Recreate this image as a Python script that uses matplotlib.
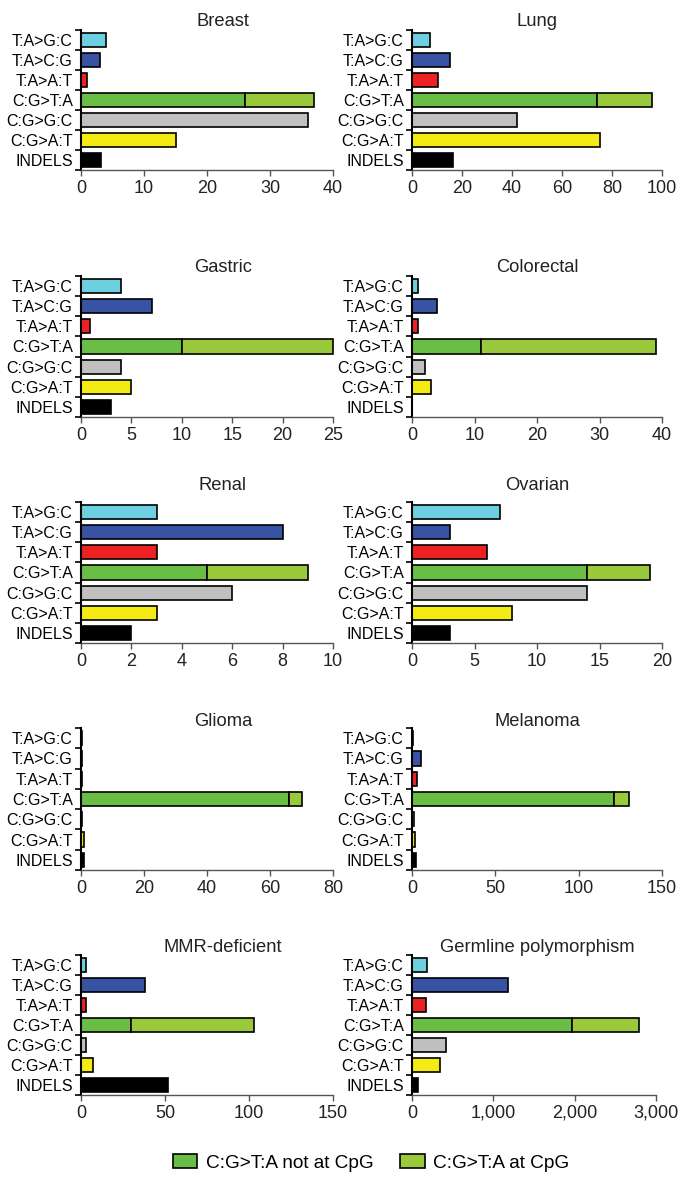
import numpy as np
import matplotlib
matplotlib.use("Agg")
import matplotlib.pyplot as plt
from matplotlib.patches import Patch
from matplotlib import font_manager

# --- Données ---------------------------------------------------------------
categories = ["T:A>G:C", "T:A>C:G", "T:A>A:T", "C:G>T:A", "C:G>G:C", "C:G>A:T", "INDELS"]
panels = ["Breast", "Lung", "Gastric", "Colorectal", "Renal", "Ovarian",
          "Glioma", "Melanoma", "MMR-deficient", "Germline polymorphism"]

ta_gc = [4, 7, 4, 1, 3, 7, 0.3, 0.5, 3, 185]
ta_cg = [3, 15, 7, 4, 8, 3, 0.3, 5.5, 38, 1175]
ta_at = [1, 10.5, 0.9, 1, 3, 6, 0.3, 3.2, 3, 168]
cg_ta_not_cpg = [26, 74, 10, 11, 5, 14, 66, 121, 30, 1973]
cg_ta_cpg = [11, 22, 15, 28, 4, 5, 4, 9, 73, 818]
cg_gc = [36, 42, 4, 2, 6, 14, 0.3, 1, 3, 420]
cg_at = [15, 75, 5, 3, 3, 8, 1, 2, 7, 348]
indels = [3.2, 16.5, 3, 0, 2, 3, 1, 2.4, 52, 70]

x_max = [40, 100, 25, 40, 10, 20, 80, 150, 150, 3000]
x_step = [10, 20, 5, 10, 2, 5, 20, 50, 50, 1000]

colors = ["#6dcfdf", "#3953a4", "#ed2024", "#6abd45", "#c0c0c0", "#f4eb14", "#000000"]
col_cpg = "#9aca3c"
legend_labels = ["C:G>T:A not at CpG", "C:G>T:A at CpG"]

# --- Polices ---------------------------------------------------------------
noms = {f.name for f in font_manager.fontManager.ttflist}
if "Liberation Sans Narrow" in noms:
    police_lab, taille_lab, taille_num = "Liberation Sans Narrow", 14, 16
else:
    police_lab, taille_lab, taille_num = "Liberation Sans", 11.5, 13
plt.rcParams["font.family"] = ["Liberation Sans", "DejaVu Sans"]

W, H = 681, 1182
fig = plt.figure(figsize=(W / 100, H / 100), dpi=100)

# positions en pixels : (haut, bas) de chaque ligne, centre y du titre
lignes = [(30, 170, 21), (276, 417, 267), (502, 643, 485), (728, 870, 721), (955, 1095, 947)]
colonnes = [(81, 333, 223), (412, 662, 537)]

for i, nom in enumerate(panels):
    haut, bas, y_titre = lignes[i // 2]
    x0, x1, x_titre = colonnes[i % 2]
    if nom.startswith("Germline"):
        x1 = 656  # axe un peu plus court sur ce panneau
    ax = fig.add_axes([x0 / W, 1 - bas / H, (x1 - x0) / W, (bas - haut) / H])

    vals = [ta_gc[i], ta_cg[i], ta_at[i], cg_ta_not_cpg[i], cg_gc[i], cg_at[i], indels[i]]
    y = np.arange(len(categories))
    ax.barh(y, vals, height=0.7, color=colors, edgecolor="black", linewidth=1.2, clip_on=False)
    ax.barh(3, cg_ta_cpg[i], left=cg_ta_not_cpg[i], height=0.7, color=col_cpg,
            edgecolor="black", linewidth=1.2, clip_on=False)

    ax.set_ylim(6.5, -0.5)
    ax.set_xlim(0, x_max[i])
    ticks = np.arange(0, x_max[i] + 1, x_step[i])
    ax.set_xticks(ticks)
    if x_max[i] >= 1000:
        ax.set_xticklabels([f"{int(t):,}" for t in ticks])
    for lab in ax.get_xticklabels():
        lab.set_fontfamily(police_lab)
        lab.set_fontsize(taille_num)
    ax.set_yticks(y)
    ax.set_yticklabels(categories, fontfamily=police_lab, fontsize=taille_lab)
    ax.set_yticks(np.arange(-0.5, 7, 1), minor=True)

    for s in ["top", "right"]:
        ax.spines[s].set_visible(False)
    ax.spines["left"].set_linewidth(1.5)
    ax.spines["bottom"].set_color("#555555")
    ax.spines["bottom"].set_linewidth(1.0)
    ax.tick_params(axis="y", which="major", length=0, pad=6)
    ax.tick_params(axis="y", which="minor", length=4, width=1.2, direction="out")
    ax.tick_params(axis="x", length=4, width=1.0, color="#555555", pad=3,
                   labelcolor="#222222")

    fig.text(x_titre / W, 1 - y_titre / H, nom, ha="center", va="center",
             fontsize=13.2, color="#222222")

handles = [Patch(facecolor=colors[3], edgecolor="black", linewidth=1.2),
           Patch(facecolor=col_cpg, edgecolor="black", linewidth=1.2)]
fig.legend(handles, legend_labels, loc="center", bbox_to_anchor=(371 / W, 1 - 1163 / H),
           ncol=2, frameon=False, fontsize=13.7, handlelength=1.3, handleheight=0.74,
           handletextpad=0.45, columnspacing=1.4)

plt.savefig("out.png", dpi=100)
